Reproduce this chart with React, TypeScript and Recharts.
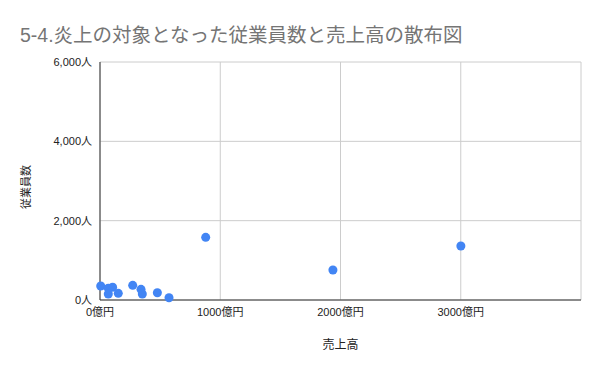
import { ScatterChart, Scatter, XAxis, YAxis, CartesianGrid, Label } from 'recharts'

// 売上高（億円）と従業員数（人）
const sales = [879, 6, 69, 105, 69, 152, 272, 341, 352, 477, 574, 1937, 3001]
const employees = [1580, 353, 295, 320, 151, 168, 370, 269, 151, 184, 58, 756, 1360]

const xTicks = [0, 1000, 2000, 3000, 4000]
const yTicks = [0, 2000, 4000, 6000]

const points = sales.map((s, i) => ({ sales: s, employees: employees[i] }))

const font = "Arial, 'Liberation Sans', 'Noto Sans CJK JP', sans-serif"

export default function App() {
  return (
    <div style={{ position: 'absolute', left: 0, top: 0, width: 600, height: 371, background: '#fff', fontFamily: font }}>
      <div style={{ position: 'absolute', left: 20, top: 19, fontSize: 19.5, color: '#757575', whiteSpace: 'nowrap' }}>
        5-4.炎上の対象となった従業員数と売上高の散布図
      </div>
      <ScatterChart width={600} height={371} margin={{ top: 62, right: 19, bottom: 41, left: 30 }}>
        <CartesianGrid stroke="#cccccc" strokeDasharray="" />
        <XAxis
          type="number"
          dataKey="sales"
          domain={[0, 4000]}
          ticks={xTicks}
          tickLine={false}
          axisLine={{ stroke: '#333333' }}
          tick={{ fontSize: 11, fill: '#222222', fontFamily: font }}
          tickFormatter={(v: number) => (v === 4000 ? '' : `${v}億円`)}
          height={30}
        >
          <Label value="売上高" position="insideBottom" offset={-19} style={{ fontSize: 12, fill: '#222222', fontFamily: font }} />
        </XAxis>
        <YAxis
          type="number"
          dataKey="employees"
          domain={[0, 6000]}
          ticks={yTicks}
          tickLine={false}
          axisLine={{ stroke: '#333333' }}
          tick={{ fontSize: 11, fill: '#222222', fontFamily: font }}
          tickFormatter={(v: number) => `${v.toLocaleString('en-US')}人`}
          width={70}
        >
          <Label value="従業員数" angle={-90} position="insideLeft" offset={-4} dy={6} style={{ fontSize: 11, fill: '#222222', fontFamily: font, textAnchor: 'middle' }} />
        </YAxis>
        <Scatter data={points} fill="#4285f4" isAnimationActive={false} />
      </ScatterChart>
    </div>
  )
}
